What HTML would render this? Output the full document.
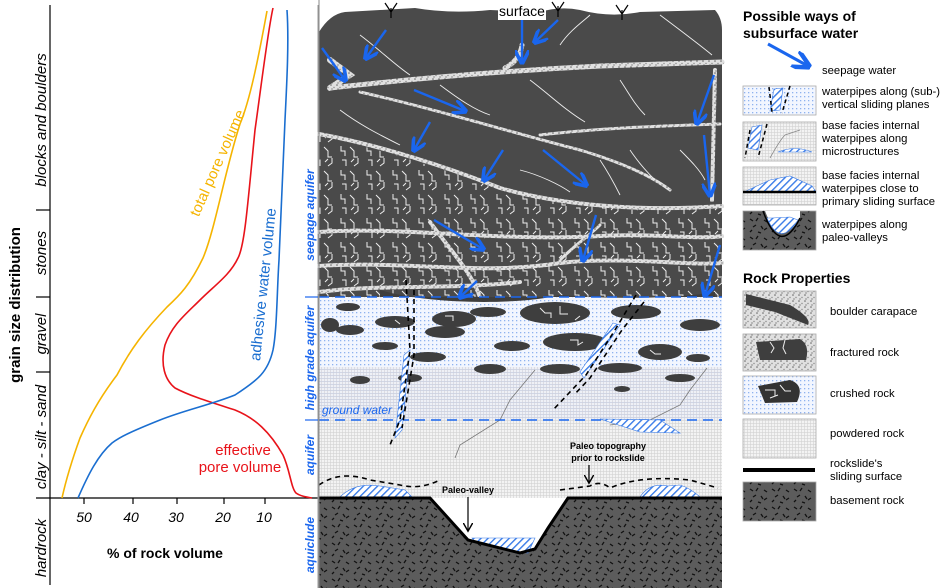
<!DOCTYPE html>
<html><head><meta charset="utf-8"><style>
html,body{margin:0;padding:0;background:#fff}
svg{display:block;font-family:"Liberation Sans",Arial,sans-serif}
</style></head><body>
<svg width="942" height="588" viewBox="0 0 942 588" xmlns="http://www.w3.org/2000/svg">
<defs>
<pattern id="speck" width="6" height="6" patternUnits="userSpaceOnUse">
<rect width="6" height="6" fill="#e0e0e0"/><circle cx="1" cy="1" r="0.8" fill="#666"/><circle cx="4" cy="3.5" r="0.7" fill="#888"/><circle cx="2" cy="5" r="0.6" fill="#555"/>
</pattern>
<pattern id="blued" width="4" height="4" patternUnits="userSpaceOnUse">
<rect width="4" height="4" fill="#f2f6ff"/><rect x="0" y="0" width="1.3" height="1.3" fill="#8fb2ef"/>
</pattern>
<pattern id="grid" width="3" height="3" patternUnits="userSpaceOnUse">
<rect width="3" height="3" fill="#f3f3f3"/><rect x="0" y="0" width="3" height="0.6" fill="#d2d2d2"/><rect x="0" y="0" width="0.6" height="3" fill="#d2d2d2"/>
</pattern>
<pattern id="gridb" width="3" height="3" patternUnits="userSpaceOnUse">
<rect width="3" height="3" fill="#eef0f6"/><rect x="0" y="0" width="3" height="0.7" fill="#c4cbe0"/><rect x="0" y="0" width="0.6" height="3" fill="#d0d0d8"/>
</pattern>
<pattern id="base" width="22" height="18" patternUnits="userSpaceOnUse">
<rect width="22" height="18" fill="#5c5c5c"/>
<path d="M2 3l3 2M10 2l-2 3M16 4l3 2M5 11l3-2M13 10l2 3M19 12l-3 2M2 16l2-2M10 16l3 1" stroke="#111" stroke-width="1.3"/>
</pattern>
<pattern id="frac" width="26" height="24" patternUnits="userSpaceOnUse">
<rect width="26" height="24" fill="#4a4a4a"/>
<path d="M3 2v5h4v5M12 3l4 4v6h4M20 14v5l-4 3M4 16h4v6M13 18l3-3" stroke="#eee" stroke-width="1" fill="none"/>
</pattern>
<pattern id="hatch" width="5" height="5" patternUnits="userSpaceOnUse" patternTransform="rotate(45)">
<rect width="5" height="5" fill="#fff"/><rect width="1.4" height="5" fill="#3a7ce8"/>
</pattern>
<marker id="ah" markerWidth="6" markerHeight="6" refX="5" refY="3" orient="auto"><path d="M0 0L6 3L0 6" fill="none" stroke="#1a66ee" stroke-width="1.5"/></marker>
<marker id="bh" markerWidth="8" markerHeight="8" refX="6" refY="4" orient="auto"><path d="M0 0L7 4L0 8" fill="none" stroke="#000" stroke-width="1.2"/></marker>
</defs>

<line x1="50" y1="5" x2="50" y2="585" stroke="#000" stroke-width="1.2"/>
<line x1="36" y1="498" x2="318" y2="498" stroke="#000" stroke-width="1.2"/>
<line x1="318" y1="5" x2="318" y2="588" stroke="#999" stroke-width="1"/>
<g stroke="#000" stroke-width="1.2">
<line x1="36" y1="210" x2="50" y2="210"/><line x1="36" y1="297" x2="50" y2="297"/><line x1="36" y1="372" x2="50" y2="372"/>
<line x1="84" y1="498" x2="84" y2="504"/><line x1="133" y1="498" x2="133" y2="504"/><line x1="177" y1="498" x2="177" y2="504"/><line x1="224" y1="498" x2="224" y2="504"/><line x1="265" y1="498" x2="265" y2="504"/>
</g>
<g font-size="14" font-style="italic" text-anchor="middle">
<text x="84" y="522">50</text><text x="131" y="522">40</text><text x="176" y="522">30</text><text x="223" y="522">20</text><text x="264" y="522">10</text>
</g>
<text x="165" y="558" font-size="14" font-weight="bold" text-anchor="middle">% of rock volume</text>
<g font-size="15" font-style="italic" text-anchor="middle">
<text transform="translate(46,120) rotate(-90)">blocks and boulders</text>
<text transform="translate(46,253) rotate(-90)">stones</text>
<text transform="translate(46,334) rotate(-90)">gravel</text>
<text transform="translate(46,437) rotate(-90)">clay - silt - sand</text>
<text transform="translate(46,548) rotate(-90)">hardrock</text>
</g>
<text transform="translate(20,305) rotate(-90)" font-size="15" font-weight="bold" text-anchor="middle">grain size distribution</text>

<path d="M267 11 C258 60 250 100 240 124 C225 170 215 230 203 258 C190 285 180 295 167 307 C145 330 130 350 117 375 C98 400 88 420 80 438 C72 460 66 480 62 498" fill="none" stroke="#f5b400" stroke-width="1.6"/>
<path d="M273 8 C268 30 262 80 255 130 C248 200 245 245 238 258 C230 275 215 285 200 300 C185 315 172 325 165 345 C160 365 165 380 175 388 C190 396 210 402 235 410 C255 418 270 432 283 455 C290 470 291 488 296 493 C300 496 306 497 312 498" fill="none" stroke="#e8131a" stroke-width="1.6"/>
<path d="M287 10 C289 40 287 80 285 120 C282 180 280 230 279 260 C277 290 277 330 273 350 C268 372 258 380 235 395 C210 405 185 410 160 420 C130 432 120 437 112 443 C98 455 88 475 78 498" fill="none" stroke="#1a6ed0" stroke-width="1.6"/>
<text transform="translate(222,165) rotate(-66)" font-size="15" fill="#f5b400" text-anchor="middle">total pore volume</text>
<text transform="translate(268,285) rotate(-84)" font-size="15" fill="#1a6ed0" text-anchor="middle">adhesive water volume</text>
<text x="243" y="455" font-size="15" fill="#e8131a" text-anchor="middle">effective</text>
<text x="240" y="472" font-size="15" fill="#e8131a" text-anchor="middle">pore volume</text>

<g font-size="12" font-weight="bold" font-style="italic" fill="#1a66ee" text-anchor="middle">
<text transform="translate(314,215) rotate(-90)">seepage aquifer</text>
<text transform="translate(314,358) rotate(-90)">high grade aquifer</text>
<text transform="translate(314,455) rotate(-90)">aquifer</text>
<text transform="translate(314,545) rotate(-90)">aquiclude</text>
</g>
<g stroke="#1a66ee" stroke-width="1.2"><line x1="305" y1="297" x2="318" y2="297"/><line x1="305" y1="420" x2="318" y2="420"/></g>

<rect x="319" y="297" width="403" height="70" fill="url(#blued)"/>
<rect x="319" y="367" width="403" height="53" fill="url(#gridb)"/>
<rect x="319" y="420" width="403" height="78" fill="url(#grid)"/>
<path d="M319 32 Q330 14 345 12 L380 10 L415 8 Q450 14 490 10 L540 12 Q560 6 580 10 Q610 18 640 12 L715 10 Q722 18 722 30 L722 297 L319 297 Z" fill="#4a4a4a"/>
<path d="M319 135 C380 150 450 170 500 190 C560 205 640 212 722 208 L722 297 L319 297 Z" fill="url(#frac)"/>
<g stroke="url(#speck)" fill="none" stroke-linecap="round">
<path d="M330 88 C420 78 520 70 600 66 C660 64 700 63 722 62" stroke-width="5"/>
<path d="M330 88 L350 75 L330 60" stroke-width="6"/>
<path d="M505 68 Q520 60 522 45" stroke-width="5"/>
<path d="M360 92 C440 110 520 135 580 150 C620 162 650 175 670 190" stroke-width="3"/>
<path d="M319 134 C380 145 450 168 500 188 C560 205 640 212 722 206" stroke-width="4"/>
<path d="M540 135 C600 128 660 126 720 124" stroke-width="3"/>
<path d="M715 70 L712 200" stroke-width="4"/>
<path d="M319 232 C400 226 500 242 600 236 C650 233 700 240 722 236" stroke-width="4"/>
<path d="M319 266 C400 260 480 276 560 263 C620 256 690 266 722 263" stroke-width="4"/>
<path d="M319 292 C380 284 450 290 520 282" stroke-width="4"/>
<path d="M430 222 C450 250 470 270 480 297" stroke-width="4"/>
<path d="M560 260 C575 245 590 235 600 225" stroke-width="3"/>
</g>
<g stroke="#eee" stroke-width="0.9" fill="none">
<path d="M360 35 C380 50 395 65 410 75"/><path d="M560 45 C570 30 585 20 590 15"/><path d="M660 15 C680 30 700 45 712 55"/>
<path d="M530 80 C550 95 565 110 585 122"/><path d="M620 80 C630 95 635 105 645 115"/>
<path d="M340 110 C360 125 380 135 400 145"/><path d="M520 170 C540 175 560 185 570 192"/><path d="M630 150 C640 165 650 175 655 180"/>
<path d="M600 160 C610 175 615 185 620 195"/><path d="M680 150 C690 160 700 170 705 180"/><path d="M440 85 C460 100 475 110 490 115"/>
</g>
<g stroke="#000" stroke-width="1.2" fill="none">
<path d="M391 18 L391 8 M391 12 L385 3 M391 12 L397 3"/>
<path d="M558 17 L558 6 M558 11 L552 2 M558 11 L564 2"/>
<path d="M622 20 L622 10 M622 14 L616 5 M622 14 L628 5"/>
</g>
<rect x="498" y="3" width="48" height="17" fill="#fff"/>
<text x="522" y="16" font-size="14" text-anchor="middle">surface</text>

<g fill="#3e3e3e">
<ellipse cx="348" cy="307" rx="12" ry="4"/><ellipse cx="395" cy="322" rx="20" ry="6"/><ellipse cx="454" cy="319" rx="22" ry="8"/>
<ellipse cx="350" cy="330" rx="14" ry="5"/><ellipse cx="488" cy="312" rx="18" ry="5"/><ellipse cx="555" cy="313" rx="35" ry="11"/>
<ellipse cx="636" cy="312" rx="25" ry="7"/><ellipse cx="700" cy="325" rx="20" ry="6"/><ellipse cx="445" cy="332" rx="20" ry="6"/>
<ellipse cx="575" cy="342" rx="32" ry="9"/><ellipse cx="660" cy="352" rx="22" ry="8"/><ellipse cx="512" cy="346" rx="18" ry="5"/>
<ellipse cx="385" cy="346" rx="13" ry="4"/><ellipse cx="428" cy="357" rx="18" ry="5"/><ellipse cx="490" cy="369" rx="16" ry="5"/>
<ellipse cx="560" cy="369" rx="20" ry="5"/><ellipse cx="620" cy="368" rx="22" ry="5"/><ellipse cx="680" cy="378" rx="15" ry="4"/>
<ellipse cx="360" cy="380" rx="10" ry="4"/><ellipse cx="410" cy="378" rx="12" ry="4"/><ellipse cx="698" cy="358" rx="12" ry="4"/>
<ellipse cx="622" cy="389" rx="8" ry="3"/><ellipse cx="330" cy="325" rx="9" ry="7"/>
</g>
<g stroke="#fff" stroke-width="1" fill="none" opacity="0.9">
<path d="M540 308 l5 5 h6 v5 M560 306 v8 h8 M580 316 l-5 4"/><path d="M445 316 h8 v5 M395 320 l5 4"/><path d="M570 340 h8 v5 l5 -3"/><path d="M650 350 l5 4 h6"/>
</g>
<path d="M380 290 C430 305 520 305 560 295 C620 300 680 298 715 292 L715 297 L380 297Z" fill="#3e3e3e"/>

<g stroke="#777" stroke-width="0.8" fill="none">
<path d="M535 370 L510 400 L500 420 L460 445 L455 458"/><path d="M707 368 L690 390 L680 405 L650 420 L610 425"/>
</g>
<line x1="319" y1="297" x2="722" y2="297" stroke="#1a66ee" stroke-width="1.4" stroke-dasharray="10,6"/>
<line x1="319" y1="420" x2="722" y2="420" stroke="#1a66ee" stroke-width="1.4" stroke-dasharray="10,6"/>
<text x="322" y="414" font-size="12" font-style="italic" fill="#1a66ee">ground water</text>

<path d="M404 355 L410 350 L402 430 L395 438Z" fill="url(#hatch)" stroke="#3a7ce8" stroke-width="0.6"/>
<path d="M613 323 L620 325 L584 378 L580 372Z" fill="url(#hatch)" stroke="#3a7ce8" stroke-width="0.6"/>
<path d="M600 419 L660 420 L680 433 L640 432 Z" fill="url(#hatch)" stroke="#3a7ce8" stroke-width="0.6"/>
<g stroke="#000" stroke-width="1.6" stroke-dasharray="5,4" fill="none">
<path d="M406 280 L410 350 L400 420 L390 445"/><path d="M414 290 L414 355 L402 428"/>
<path d="M636 295 L615 330 L586 375 L553 410"/><path d="M644 302 L622 330 L590 378 L574 395"/>
<path d="M319 485 Q340 470 370 480 L400 485 Q420 490 440 480 M560 490 L590 486 Q600 480 610 488 Q640 475 690 480 L718 488"/>
</g>
<path d="M340 497 Q355 482 380 486 L405 490 L412 497Z" fill="url(#hatch)" stroke="#3a7ce8" stroke-width="0.6"/>
<path d="M640 497 Q650 482 668 486 L680 485 Q690 488 700 497Z" fill="url(#hatch)" stroke="#3a7ce8" stroke-width="0.6"/>

<path d="M319 498 L430 498 L468 540 L520 553 L535 549 L548 528 L568 498 L722 498 L722 588 L319 588Z" fill="url(#base)"/>
<path d="M472 538 L535 538 L528 553 L518 552 L475 542Z" fill="url(#hatch)" stroke="#3a7ce8" stroke-width="0.6"/>
<path d="M319 498 L430 498 L468 540 L520 553 L535 549 L548 528 L568 498 L722 498" fill="none" stroke="#000" stroke-width="3"/>
<line x1="319" y1="0" x2="319" y2="588" stroke="#888" stroke-width="1"/>

<g font-size="9" font-weight="bold" text-anchor="middle">
<text x="468" y="493">Paleo-valley</text>
<text x="608" y="449">Paleo topography</text><text x="608" y="461">prior to rockslide</text>
</g>
<line x1="468" y1="497" x2="468" y2="530" stroke="#000" stroke-width="1.2" marker-end="url(#bh)"/>
<line x1="589" y1="465" x2="589" y2="482" stroke="#000" stroke-width="1.2" marker-end="url(#bh)"/>

<g stroke="#1a66ee" stroke-width="2.4" fill="none" marker-end="url(#ah)">
<path d="M386 30 L366 58"/><path d="M322 48 L345 80"/><path d="M522 20 L522 62"/><path d="M558 20 L535 42"/>
<path d="M414 90 L465 111"/><path d="M430 122 L414 150"/><path d="M503 150 L484 180"/><path d="M543 150 L586 185"/>
<path d="M714 75 L697 123"/><path d="M704 135 L710 195"/><path d="M434 220 L483 249"/><path d="M596 215 L583 260"/>
<path d="M477 281 L460 297"/><path d="M720 245 L705 295"/>
</g>

<text x="743" y="21" font-size="14" font-weight="bold">Possible ways of</text>
<text x="743" y="38" font-size="14" font-weight="bold">subsurface water</text>
<line x1="768" y1="44" x2="808" y2="66" stroke="#1a66ee" stroke-width="3" marker-end="url(#ah)"/>
<g font-size="11.3">
<text x="822" y="74">seepage water</text>
<text x="822" y="95">waterpipes along (sub-)</text><text x="822" y="108">vertical sliding planes</text>
<text x="822" y="129">base facies internal</text><text x="822" y="142">waterpipes along</text><text x="822" y="155">microstructures</text>
<text x="822" y="179">base facies internal</text><text x="822" y="192">waterpipes close to</text><text x="822" y="205">primary sliding surface</text>
<text x="822" y="228">waterpipes along</text><text x="822" y="241">paleo-valleys</text>
<text x="830" y="315">boulder carapace</text><text x="830" y="356">fractured rock</text><text x="830" y="397">crushed rock</text>
<text x="830" y="437">powdered rock</text><text x="830" y="467">rockslide's</text><text x="830" y="480">sliding surface</text>
<text x="830" y="504">basement rock</text>
</g>
<text x="743" y="283" font-size="14" font-weight="bold">Rock Properties</text>
<g stroke="#aaa" stroke-width="0.8">
<rect x="743" y="86" width="73" height="29" fill="url(#blued)"/>
<rect x="743" y="122" width="73" height="39" fill="url(#grid)"/>
<rect x="743" y="167" width="73" height="38" fill="url(#grid)"/>
<rect x="743" y="211" width="73" height="39" fill="url(#base)"/>
<rect x="743" y="291" width="73" height="37" fill="url(#speck)"/>
<rect x="743" y="334" width="73" height="37" fill="url(#speck)"/>
<rect x="743" y="376" width="73" height="38" fill="url(#blued)"/>
<rect x="743" y="419" width="73" height="39" fill="url(#grid)"/>
<rect x="743" y="482" width="73" height="39" fill="url(#base)"/>
</g>
<path d="M774 89 L783 88 L780 110 L770 111Z" fill="url(#hatch)" stroke="#3a7ce8" stroke-width="0.6"/>
<path d="M769 87 L772 112 M790 86 L782 113" stroke="#000" stroke-width="1.5" stroke-dasharray="4,3"/>
<path d="M752 127 L762 125 L758 150 L748 148Z" fill="url(#hatch)" stroke="#3a7ce8" stroke-width="0.6"/>
<path d="M750 130 L745 158 M767 124 L758 158" stroke="#000" stroke-width="1.5" stroke-dasharray="4,3"/>
<path d="M778 152 Q795 145 812 152Z" fill="url(#hatch)" stroke="#3a7ce8" stroke-width="0.6"/>
<path d="M770 158 Q780 140 785 135 L800 130" stroke="#888" fill="none" stroke-width="0.8"/>
<path d="M744 192 L770 180 L790 176 L812 186 L816 192Z" fill="url(#hatch)" stroke="#3a7ce8" stroke-width="0.6"/>
<line x1="743" y1="192" x2="816" y2="192" stroke="#000" stroke-width="2.5"/>
<path d="M765 211 Q780 250 800 218 L800 211 Z" fill="#fff"/>
<path d="M767 218 Q780 248 798 220 L790 217 L772 218Z" fill="url(#hatch)" stroke="#3a7ce8" stroke-width="0.6"/>
<path d="M763 211 Q780 258 800 218" stroke="#000" stroke-width="1.5" fill="none"/>
<path d="M746 294 L790 305 Q812 318 808 325 L775 312 L746 305Z" fill="#3e3e3e"/>
<path d="M756 342 L800 339 Q810 345 806 360 L760 360 Z" fill="#3e3e3e"/>
<path d="M770 342 l4 6 l-3 5 M785 340 l-2 8 l3 6" stroke="#eee" fill="none"/>
<path d="M758 386 L790 380 Q805 385 797 402 L765 403 Z" fill="#333"/>
<path d="M765 390 h10 v6 M780 385 l5 6 h6 M770 398 l8 -3" stroke="#eee" fill="none"/>
<line x1="743" y1="470" x2="815" y2="470" stroke="#000" stroke-width="4"/>
</svg>
</body></html>
